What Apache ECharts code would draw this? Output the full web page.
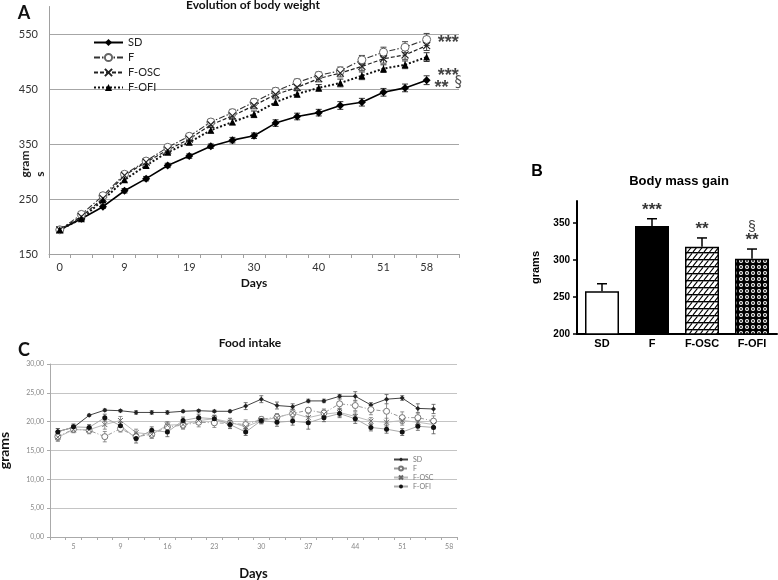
<!DOCTYPE html>
<html><head><meta charset="utf-8">
<script src="https://cdn.jsdelivr.net/npm/echarts@6/dist/echarts.min.js"></script>
<style>html,body{margin:0;padding:0;background:#fff}#c{width:778px;height:580px}</style>
</head><body><div id="c"></div>
<script>
// ---------- Panel A: Evolution of body weight ----------
const daysA = ['0','','','9','','','19','','','30','','','40','','','51','','58',''];
const ticksA = [150,250,350,450,550];
const sdA  = [194,214,236,265,287,311,328,346,357,365,388,400,407,420,426,444,452,466];
const fA   = [194,222,256,295,319,344,364,390,407,426,446,462,475,483,503,517,526,540];
const oscA = [194,218,251,293,317,339,359,385,401,420,440,453,469,479,491,505,512,529];
const ofiA = [194,214,248,285,311,335,353,375,390,404,426,441,452,461,474,487,494,508];
const sdAErr  = [2,3,3,4,4,4,4,4,5,5,6,6,6,7,7,7,7,8];
const fAErr   = [2,4,4,4,4,4,5,5,6,6,6,6,6,7,8,9,10,11];
const oscAErr = [2,3,4,4,4,4,4,5,5,6,6,6,6,7,7,8,8,9];
const ofiAErr = [2,3,4,4,4,4,4,5,5,6,6,6,6,7,7,7,7,8];
const annotA    = ['***','***','**'];
const annotAVal = [543,482,461];
const annotACat = 18;
const annotSec  = '§';

// ---------- Panel B: Body mass gain ----------
const groupsB  = ['SD','F','F-OSC','F-OFI'];
const gainB    = [258,346,318,302];
const gainBErr = [10,10,12,13];
const starsB   = ['','***','**','**'];
const secB     = ['','','','§'];

// ---------- Panel C: Food intake ----------
const daysC = ['','5','','','9','','','16','','','23','','','30','','','37','','','44','','','51','','','58'];
const sdC  = [18.3,19.0,21.1,22.0,21.9,21.6,21.6,21.6,21.8,21.9,21.8,21.8,22.7,23.9,22.8,22.6,23.6,23.6,24.4,24.4,22.9,23.9,24.1,22.3,22.2];
const fC   = [17.4,18.7,18.5,17.4,18.8,17.4,17.8,19.1,19.4,19.9,19.8,19.7,19.5,20.4,20.8,21.4,22.0,21.5,23.1,22.8,22.1,21.8,20.7,20.7,20.1];
const oscC = [17.3,18.6,18.6,19.5,20.2,18.1,17.8,19.4,19.5,20.2,20.5,19.9,19.1,20.2,20.7,21.5,20.7,21.3,21.6,20.9,20.1,19.9,20.2,19.9,19.5];
const ofiC = [18.2,19.1,19.0,20.7,19.3,17.1,18.5,18.2,20.2,20.7,20.5,19.5,18.2,20.2,19.9,20.1,19.8,20.7,21.4,20.5,19.0,18.7,18.2,19.2,19.0];
const sdCErr  = [0.5,0.4,0.2,0.2,0.2,0.3,0.3,0.3,0.2,0.2,0.2,0.2,0.6,0.6,0.6,0.5,0.3,0.3,0.3,0.8,0.4,0.8,0.4,0.8,0.8];
const fCErr   = [0.8,0.6,0.6,0.9,0.6,0.7,0.7,0.8,0.7,0.8,0.8,0.8,0.8,0.5,0.6,0.8,0.4,0.7,0.8,0.9,0.9,2.0,1.0,0.9,0.9];
const oscCErr = [0.6,0.5,0.5,0.8,0.7,0.6,0.6,0.6,0.7,0.6,0.6,0.7,0.7,0.6,0.6,0.6,0.7,0.7,0.7,0.8,0.6,0.7,0.8,0.7,0.7];
const ofiCErr = [0.6,0.5,0.5,0.6,0.6,0.8,0.6,0.8,0.6,0.6,0.6,0.7,0.6,0.5,0.7,0.7,1.1,0.7,0.7,0.8,0.6,0.7,0.6,0.7,1.1];

// ---------- patterns ----------
function hatchPattern(){
  const c=document.createElement('canvas'); c.width=11; c.height=7;
  const g=c.getContext('2d');
  g.fillStyle='#fff'; g.fillRect(0,0,11,7);
  g.strokeStyle='#000'; g.lineWidth=1.4;
  g.beginPath(); g.moveTo(0,0.7); g.lineTo(11,0.7); g.stroke();
  g.lineWidth=1.1; g.beginPath();
  for(let x=-11;x<22;x+=5.5){ g.moveTo(x,7); g.lineTo(x+4.5,1.4); }
  g.stroke();
  return c;
}
function dotPattern(){
  const c=document.createElement('canvas'); c.width=6; c.height=6;
  const g=c.getContext('2d');
  g.fillStyle='#000'; g.fillRect(0,0,6,6);
  g.fillStyle='#fff';
  g.beginPath(); g.arc(3,3,2.0,0,Math.PI*2); g.fill();
  g.fillStyle='#000';
  g.beginPath(); g.arc(3,3,0.9,0,Math.PI*2); g.fill();
  return c;
}

const X_PATH = 'path://M0,0L10,10M10,0L0,10';

function errRender(color, cap, lw, upperOnly){
  return function(params, api){
    const i=api.value(0), v=api.value(1), e=api.value(2);
    const p1=api.coord([i, v+e]);
    const p0=api.coord([i, v]);
    const p2=api.coord([i, v-e]);
    const st={stroke:color, lineWidth:lw};
    const ch=[];
    if(upperOnly){
      ch.push({type:'line',shape:{x1:p1[0],y1:p1[1],x2:p0[0],y2:p0[1]},style:st});
      ch.push({type:'line',shape:{x1:p1[0]-cap,y1:p1[1],x2:p1[0]+cap,y2:p1[1]},style:st});
    } else {
      ch.push({type:'line',shape:{x1:p1[0],y1:p1[1],x2:p2[0],y2:p2[1]},style:st});
      ch.push({type:'line',shape:{x1:p1[0]-cap,y1:p1[1],x2:p1[0]+cap,y2:p1[1]},style:st});
      ch.push({type:'line',shape:{x1:p2[0]-cap,y1:p2[1],x2:p2[0]+cap,y2:p2[1]},style:st});
    }
    return {type:'group', children:ch};
  };
}
function errSeries(vals, errs, xi, color, cap, lw, upperOnly){
  return {type:'custom', xAxisIndex:xi, yAxisIndex:xi, z:1, silent:true,
    renderItem: errRender(color, cap, lw, upperOnly),
    encode:{x:0,y:1},
    data: vals.map((v,i)=>[i,v,errs[i]])};
}

const fA_ = 'Lato, "Open Sans", sans-serif';
const fB_ = '"Liberation Sans", Arial, sans-serif';

const chart = echarts.init(document.getElementById('c'), null, {renderer:'canvas'});
const option = {
  animation:false,
  backgroundColor:'#fff',
  grid:[
    {left:49, top:6.5, width:410, height:247.5, outerBoundsMode:'none', containLabel:false},
    {left:577, top:201, width:200, height:133, outerBoundsMode:'none', containLabel:false},
    {left:50, top:364, width:407, height:173, outerBoundsMode:'none', containLabel:false}
  ],
  xAxis:[
    {gridIndex:0, type:'category', data:daysA, boundaryGap:true,
     axisLine:{lineStyle:{color:'#a0a0a0', width:1}},
     axisTick:{show:true, interval:0, length:4, lineStyle:{color:'#a0a0a0'}},
     axisLabel:{interval:0, color:'#333', fontSize:11, fontFamily:fA_, margin:8},
     name:'Days', nameLocation:'middle', nameGap:23,
     nameTextStyle:{fontWeight:'bold', fontSize:12, color:'#111', fontFamily:fA_}},
    {gridIndex:1, type:'category', data:groupsB,
     axisLine:{lineStyle:{color:'#000', width:2}},
     axisTick:{show:false},
     axisLabel:{color:'#000', fontWeight:'bold', fontSize:11, fontFamily:fB_, margin:4}},
    {gridIndex:2, type:'category', data:daysC, boundaryGap:true,
     axisLine:{lineStyle:{color:'#aaa', width:1}},
     axisTick:{show:true, interval:0, length:3, lineStyle:{color:'#aaa'}},
     axisLabel:{interval:0, color:'#888', fontSize:7, fontFamily:fA_, margin:6},
     name:'Days', nameLocation:'middle', nameGap:30,
     nameTextStyle:{fontWeight:'bold', fontSize:13, color:'#111', fontFamily:fA_}}
  ],
  yAxis:[
    {gridIndex:0, type:'value', min:150, max:600, interval:50,
     axisLine:{show:true, lineStyle:{color:'#a0a0a0'}},
     axisTick:{show:false},
     axisLabel:{color:'#333', fontSize:11, fontFamily:fA_, margin:11,
       formatter:v=>ticksA.includes(v)?String(v):''},
     splitLine:{show:true, lineStyle:{color:['#a6a6a6','rgba(0,0,0,0)'], width:1}}},
    {gridIndex:1, type:'value', min:200, max:380, interval:50,
     axisLine:{show:true, lineStyle:{color:'#000', width:2}},
     axisTick:{show:true, length:4, lineStyle:{color:'#000', width:1.5}, customValues:[200,250,300,350]},
     axisLabel:{color:'#000', fontWeight:'bold', fontSize:10, fontFamily:fB_, margin:7,
       customValues:[200,250,300,350], formatter:v=>v>=380?'':String(v)},
     splitLine:{show:false},
     name:'grams', nameLocation:'middle', nameGap:36, nameRotate:90,
     nameTextStyle:{fontWeight:'bold', fontSize:11, color:'#000', fontFamily:fB_}},
    {gridIndex:2, type:'value', min:0, max:30, interval:5,
     axisLine:{show:true, lineStyle:{color:'#aaa'}},
     axisTick:{show:true, length:3, lineStyle:{color:'#aaa'}},
     axisLabel:{color:'#888', fontSize:7, fontFamily:fA_, margin:6,
       formatter:v=>v.toFixed(2).replace('.',',')},
     splitLine:{show:true, lineStyle:{color:'#c4c4c4', width:1.2}},
     name:'grams', nameLocation:'middle', nameGap:39, nameRotate:90,
     nameTextStyle:{fontWeight:'bold', fontSize:14, color:'#111', fontFamily:fA_}}
  ],
  legend:[
    {data:['SD','F','F-OSC','F-OFI'], orient:'vertical', left:93, top:37,
     itemWidth:29, itemHeight:9, itemGap:4, padding:0,
     textStyle:{fontSize:11, color:'#222', fontFamily:fA_}},
    {data:['SD ','F ','F-OSC ','F-OFI '], orient:'vertical', left:393, top:456,
     itemWidth:14, itemHeight:5, itemGap:2, padding:0,
     textStyle:{fontSize:7, color:'#777', fontFamily:fA_}}
  ],
  series:[
    // panel A error bars
    errSeries(sdA, sdAErr, 0, '#333', 3, 1, false),
    errSeries(fA, fAErr, 0, '#444', 3, 1, false),
    errSeries(oscA, oscAErr, 0, '#444', 3, 1, false),
    errSeries(ofiA, ofiAErr, 0, '#333', 3, 1, false),
    {name:'SD', type:'line', xAxisIndex:0, yAxisIndex:0, data:sdA, z:3,
     symbol:'diamond', symbolSize:8, itemStyle:{color:'#000'},
     lineStyle:{color:'#000', width:1.6}},
    {name:'F', type:'line', xAxisIndex:0, yAxisIndex:0, data:fA, z:3,
     symbol:'circle', symbolSize:8, itemStyle:{color:'#fff', borderColor:'#666', borderWidth:1},
     lineStyle:{color:'#333', width:1.1, type:[6,2,1.5,2]}},
    {name:'F-OSC', type:'line', xAxisIndex:0, yAxisIndex:0, data:oscA, z:3,
     symbol:X_PATH, symbolSize:7, itemStyle:{color:'rgba(0,0,0,0)', borderColor:'#222', borderWidth:1.2},
     lineStyle:{color:'#222', width:1.2, type:[4,2]}},
    {name:'F-OFI', type:'line', xAxisIndex:0, yAxisIndex:0, data:ofiA, z:3,
     symbol:'triangle', symbolSize:7, itemStyle:{color:'#000'},
     lineStyle:{color:'#111', width:2, type:[2,2]}},
    {type:'scatter', xAxisIndex:0, yAxisIndex:0, symbolSize:0, silent:true, z:4,
     data: annotA.map((t,i)=>[annotACat, annotAVal[i], t, i===2?annotSec:'']),
     label:{show:true, position:'inside', offset:[0,5],
       formatter:p=>p.data[3]?'{a|'+p.data[2]+'}{s|'+p.data[3]+'}':'{a|'+p.data[2]+'}',
       rich:{a:{fontSize:18, fontWeight:'bold', color:'#111', fontFamily:fB_, lineHeight:18},
             s:{fontSize:15, color:'#222', fontFamily:'"DejaVu Sans", sans-serif', lineHeight:18, padding:[0,0,9,6]}}}},
    // panel B
    {type:'bar', xAxisIndex:1, yAxisIndex:1, barWidth:34, z:2,
     data: gainB.map((v,i)=>({value:v, itemStyle:{color:[ '#fff', '#000', {image:hatchPattern(), repeat:'repeat'}, {image:dotPattern(), repeat:'repeat'} ][i]}})),
     itemStyle:{borderColor:'#000', borderWidth:1.5}},
    errSeries(gainB, gainBErr, 1, '#000', 5, 1.5, true),
    {type:'scatter', xAxisIndex:1, yAxisIndex:1, symbolSize:0, silent:true, z:4,
     data: gainB.map((v,i)=>[i, v+gainBErr[i], starsB[i], secB[i]]),
     label:{show:true, position:'top', distance:0,
       formatter:p=>(p.data[3]?'{s|'+p.data[3]+'}\n':'')+'{a|'+p.data[2]+'}',
       rich:{a:{fontSize:17, lineHeight:17, fontWeight:'bold', color:'#000', fontFamily:fB_, align:'center'},
             s:{fontSize:14, lineHeight:10, color:'#000', fontFamily:fB_, align:'center'}}}},
    // panel C error bars
    errSeries(sdC, sdCErr, 2, '#555', 2, 0.8, false),
    errSeries(fC, fCErr, 2, '#777', 2, 0.8, false),
    errSeries(oscC, oscCErr, 2, '#777', 2, 0.8, false),
    errSeries(ofiC, ofiCErr, 2, '#555', 2, 0.8, false),
    {name:'SD ', type:'line', xAxisIndex:2, yAxisIndex:2, data:sdC, z:3,
     symbol:'diamond', symbolSize:5, itemStyle:{color:'#222'},
     lineStyle:{color:'#444', width:1}},
    {name:'F ', type:'line', xAxisIndex:2, yAxisIndex:2, data:fC, z:3,
     symbol:'circle', symbolSize:6, itemStyle:{color:'#fff', borderColor:'#777', borderWidth:1},
     lineStyle:{color:'#999', width:1, type:[4,2,1,2]}},
    {name:'F-OSC ', type:'line', xAxisIndex:2, yAxisIndex:2, data:oscC, z:3,
     symbol:X_PATH, symbolSize:5, itemStyle:{color:'rgba(0,0,0,0)', borderColor:'#666', borderWidth:1},
     lineStyle:{color:'#bbb', width:1}},
    {name:'F-OFI ', type:'line', xAxisIndex:2, yAxisIndex:2, data:ofiC, z:3,
     symbol:'circle', symbolSize:5, itemStyle:{color:'#111'},
     lineStyle:{color:'#aaa', width:1}}
  ],
  graphic:[
    {type:'text', x:24, y:13, style:{text:'A', font:'bold 18px '+fA_, fill:'#111', align:'center', verticalAlign:'middle'}},
    {type:'text', x:253, y:5, style:{text:'Evolution of body weight', font:'bold 12px '+fA_, fill:'#111', align:'center', verticalAlign:'middle'}},
    {type:'text', x:25, y:164, rotation:Math.PI/2, style:{text:'gram', font:'bold 12px '+fA_, fill:'#222', align:'center', verticalAlign:'middle'}},
    {type:'text', x:40, y:174, rotation:Math.PI/2, style:{text:'s', font:'bold 12px '+fA_, fill:'#222', align:'center', verticalAlign:'middle'}},
    {type:'text', x:537, y:172, style:{text:'B', font:'bold 16px '+fB_, fill:'#000', align:'center', verticalAlign:'middle'}},
    {type:'text', x:679, y:181, style:{text:'Body mass gain', font:'bold 13px '+fB_, fill:'#000', align:'center', verticalAlign:'middle'}},
    {type:'text', x:24, y:350, style:{text:'C', font:'bold 18px '+fA_, fill:'#111', align:'center', verticalAlign:'middle'}},
    {type:'text', x:250, y:343, style:{text:'Food intake', font:'bold 12px '+fA_, fill:'#111', align:'center', verticalAlign:'middle'}}
  ]
};
chart.setOption(option);
</script></body></html>
